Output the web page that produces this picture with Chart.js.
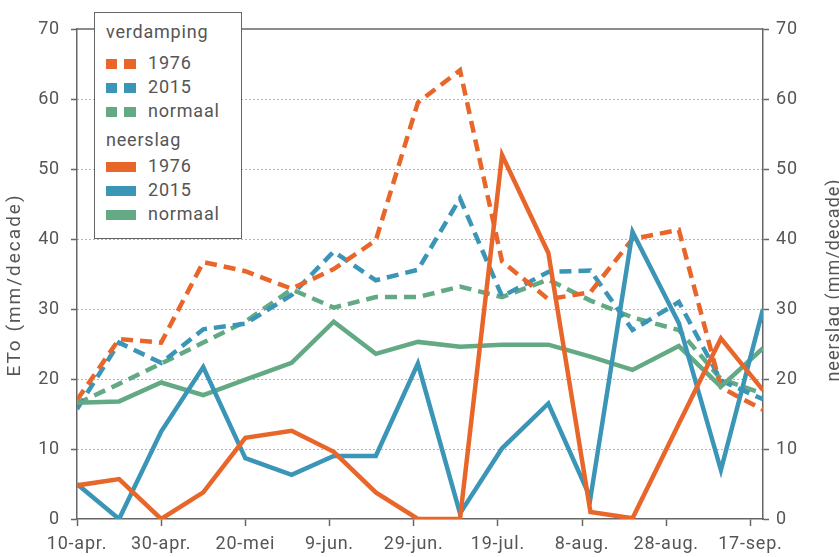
<!DOCTYPE html>
<html>
<head>
<meta charset="utf-8">
<script src="https://cdn.jsdelivr.net/npm/chart.js@4.4.0/dist/chart.umd.min.js"></script>
<style>
html,body{margin:0;padding:0;background:#fff;}
#wrap{position:relative;width:839px;height:557px;overflow:hidden;}
canvas{display:block;}
#legendBox{position:absolute;left:94px;top:12px;width:148px;height:227px;box-sizing:border-box;border:1.5px solid #666;background:#fff;}
.lg{position:absolute;height:20px;line-height:20px;white-space:nowrap;font-family:Roboto,sans-serif;font-size:18px;letter-spacing:0.8px;color:#555;}
.mk{position:absolute;height:10px;}
</style>
</head>
<body>
<div id="wrap">
<canvas id="c" width="839" height="557"></canvas>
<div id="legendBox"></div>
</div>
<script>
// ---- data ----
const decadeDates = ['04-10','04-20','04-30','05-10','05-20','05-31','06-10','06-20','06-30','07-10','07-20','07-31','08-10','08-20','08-31','09-10','09-20'];
const tickDates  = ['04-10','04-30','05-20','06-09','06-29','07-19','08-08','08-28','09-17'];
const tickLabels = ['10-apr.','30-apr.','20-mei','9-jun.','29-jun.','19-jul.','8-aug.','28-aug.','17-sep.'];
const yTicks = [0,10,20,30,40,50,60,70];

const verdamping1976   = [17.0,25.7,25.2,36.7,35.4,32.9,35.7,39.8,59.5,64.1,36.8,31.4,32.4,40.0,41.3,18.8,15.6];
const verdamping2015   = [15.7,25.2,22.3,27.1,27.9,32.0,38.2,34.1,35.6,45.8,31.8,35.3,35.5,27.0,31.0,19.8,17.1];
const verdampingNormaal= [16.5,19.3,22.2,25.2,28.2,32.8,30.2,31.7,31.7,33.2,31.7,34.2,31.2,28.8,27.0,20.0,17.9];
const neerslag1976     = [4.8,5.7,0.0,3.8,11.6,12.6,9.6,3.8,0.0,0.0,52.0,38.0,1.0,0.1,13.6,25.8,18.4];
const neerslag2015     = [5.0,0.0,12.5,21.7,8.7,6.3,9.0,9.0,22.2,0.8,10.1,16.5,3.0,41.0,28.0,7.0,30.0];
const neerslagNormaal  = [16.6,16.8,19.5,17.7,19.9,22.3,28.2,23.6,25.3,24.6,24.9,24.9,23.2,21.3,24.7,18.9,24.4];

const groupTitles = ['verdamping','neerslag'];
const seriesNames = ['1976','2015','normaal'];
const leftTitle = 'ETo (mm/decade)';
const rightTitle = 'neerslag (mm/decade)';

// ---- styles ----
const COLORS = ['#E8662A','#3A95B7','#62A984'];
const TEXT = '#555555';
const AXIS = '#666666';
const FONT = 'Roboto, sans-serif';

function dayOf(md){
  const p = md.split('-').map(Number);
  return (Date.UTC(2001,p[0]-1,p[1]) - Date.UTC(2001,3,10)) / 86400000;
}
function pts(arr){ return decadeDates.map((d,i)=>({x:dayOf(d), y:arr[i]})); }

const verdSeries = [verdamping1976, verdamping2015, verdampingNormaal];
const neerSeries = [neerslag1976, neerslag2015, neerslagNormaal];

const datasets = [];
neerSeries.forEach((a,i)=>datasets.push({
  label: groupTitles[1]+' '+seriesNames[i], data: pts(a), yAxisID:'y2',
  borderColor: COLORS[i], borderWidth: 4.5, pointRadius:0, tension:0, fill:false
}));
verdSeries.forEach((a,i)=>datasets.push({
  label: groupTitles[0]+' '+seriesNames[i], data: pts(a), yAxisID:'y',
  borderColor: COLORS[i], borderWidth: 4.5, borderDash:[12,7], pointRadius:0, tension:0, fill:false
}));

const decor = {
  id:'decor',
  beforeDraw(chart){ chart.ctx.letterSpacing = '0.8px'; },
  beforeDatasetsDraw(chart){
    const {ctx, chartArea:a} = chart;
    ctx.save();
    ctx.strokeStyle = AXIS; ctx.lineWidth = 1.5;
    ctx.beginPath(); ctx.moveTo(a.left, a.top); ctx.lineTo(a.right, a.top); ctx.stroke();
    ctx.restore();
  },
  afterDraw(chart){
    const ctx = chart.ctx;
    ctx.save();
    ctx.fillStyle = TEXT;
    ctx.textAlign='center'; ctx.textBaseline='middle';
    ctx.save(); ctx.font = '19px '+FONT; ctx.letterSpacing='2px';
    ctx.translate(15, 285); ctx.rotate(-Math.PI/2); ctx.fillText(leftTitle,0,0); ctx.restore();
    ctx.save(); ctx.font = '18px '+FONT; ctx.letterSpacing='1px';
    ctx.translate(834, 280); ctx.rotate(-Math.PI/2); ctx.fillText(rightTitle,0,0); ctx.restore();
    ctx.restore();
  }
};

const tickFont = {family: FONT, size: 18};

new Chart(document.getElementById('c'), {
  type:'line',
  data:{datasets},
  options:{
    responsive:false, animation:false, devicePixelRatio:1,
    layout:{padding:{left:0,right:0,top:29,bottom:0}},
    plugins:{legend:{display:false}, tooltip:{enabled:false}},
    scales:{
      x:{
        type:'linear', min:0, max:dayOf(decadeDates[decadeDates.length-1]),
        afterBuildTicks(s){ s.ticks = tickDates.map(d=>({value:dayOf(d)})); },
        afterFit(s){ s.height = 38; },
        ticks:{ autoSkip:false, maxRotation:0, minRotation:0, padding:8, color:TEXT, font:tickFont,
          callback:(v,i)=>tickLabels[i] },
        grid:{ drawOnChartArea:false, drawTicks:true, tickLength:7, tickColor:AXIS, tickWidth:1.5 },
        border:{ display:true, color:AXIS, width:1.5 }
      },
      y:{
        position:'left', min:0, max:70,
        afterBuildTicks(s){ s.ticks = yTicks.map(v=>({value:v})); },
        afterFit(s){ s.width = 77; },
        ticks:{ padding:11, color:TEXT, font:tickFont },
        grid:{ drawOnChartArea:true, drawTicks:true, tickLength:6, tickColor:AXIS, tickWidth:1.5, tickBorderDash:[],
          color:(c)=> (c.tick && (c.tick.value===0 || c.tick.value===70)) ? 'rgba(0,0,0,0)' : '#6a6a6a', lineWidth:1 },
        border:{ display:true, color:AXIS, width:1.5, dash:[1,3] }
      },
      y2:{
        position:'right', min:0, max:70,
        afterBuildTicks(s){ s.ticks = yTicks.map(v=>({value:v})); },
        afterFit(s){ s.width = 76; },
        ticks:{ padding:7, color:TEXT, font:tickFont },
        grid:{ drawOnChartArea:false, drawTicks:true, tickLength:6, tickColor:AXIS, tickWidth:1.5 },
        border:{ display:true, color:AXIS, width:1.5 }
      }
    }
  },
  plugins:[decor]
});

// ---- legend (HTML) ----
const wrap = document.getElementById('wrap');
function addText(txt, left, top){
  const d = document.createElement('div'); d.className='lg'; d.textContent=txt;
  d.style.left=left+'px'; d.style.top=top+'px'; wrap.appendChild(d);
}
function addMark(left, top, w, color){
  const d = document.createElement('div'); d.className='mk';
  d.style.left=left+'px'; d.style.top=top+'px'; d.style.width=w+'px'; d.style.background=color; wrap.appendChild(d);
}
const headerTops = [22, 130];
const rowTops = [[53,77,101],[156,180,204]];
groupTitles.forEach((g,gi)=>{
  addText(g, 106, headerTops[gi]);
  seriesNames.forEach((n,si)=>{
    const t = rowTops[gi][si];
    const my = t + 6;
    if(gi===0){ addMark(106,my,11,COLORS[si]); addMark(124,my,12,COLORS[si]); }
    else { addMark(106,my,30,COLORS[si]); }
    addText(n, 148, t);
  });
});
</script>
</body>
</html>
